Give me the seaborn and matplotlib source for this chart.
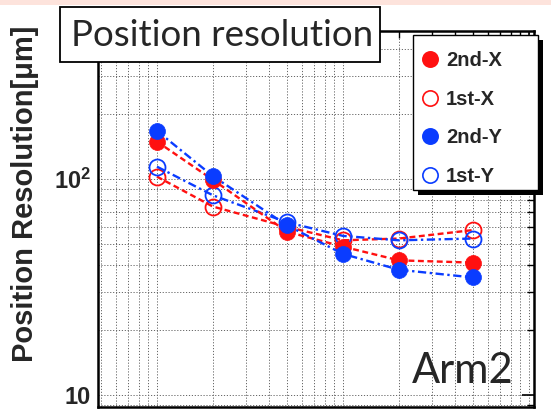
import numpy as np
import pandas as pd
import matplotlib
matplotlib.use("Agg")
import matplotlib.pyplot as plt
import seaborn as sns
from matplotlib.patches import Rectangle
from matplotlib.lines import Line2D
from matplotlib.ticker import LogLocator, FixedLocator, FixedFormatter, NullFormatter

# ---- data -------------------------------------------------------------
x_vals = [10, 20, 50, 100, 200, 500]
res_2nd_x = [149, 99, 57, 48.6, 42, 41]
res_1st_x = [102.5, 74.5, 60, 52, 53, 58]
res_2nd_y = [167, 103, 61, 45, 38, 35]
res_1st_y = [114, 84, 63, 54.5, 52, 53]
series_names = ["2nd-X", "1st-X", "2nd-Y", "1st-Y"]
y_tick_vals = [10, 100]
y_tick_labels = ["10", r"$\mathbf{10^{2}}$"]

RED = "#ff1010"
BLUE = "#0a3cff"

sns.set_theme(style="white")
plt.rcParams["font.family"] = ["Liberation Sans", "DejaVu Sans"]
plt.rcParams["mathtext.fontset"] = "custom"
plt.rcParams["mathtext.rm"] = "Liberation Sans"
plt.rcParams["mathtext.bf"] = "Liberation Sans:bold"

W, H = 551, 411
fig = plt.figure(figsize=(W / 100, H / 100), dpi=100)
fig.patch.set_facecolor("white")


def fx(px):
    return px / W


def fy(py):
    return 1 - py / H


ax = fig.add_axes([fx(98), fy(407), fx(534) - fx(98), fy(31) - fy(407)])
ax.set_xscale("log")
ax.set_yscale("log")
ax.set_xlim(4.82, 1064)
ax.set_ylim(8.8, 484)

df = pd.DataFrame({
    "x": x_vals * 4,
    "res": res_2nd_x + res_1st_x + res_2nd_y + res_1st_y,
    "series": np.repeat(series_names, len(x_vals)),
})

styles = {
    "2nd-X": dict(color=RED, filled=True, ls=(0, (2.5, 1.5))),
    "1st-X": dict(color=RED, filled=False, ls=(0, (2.5, 1.5))),
    "2nd-Y": dict(color=BLUE, filled=True, ls=(0, (3.5, 1.5, 1, 1.5))),
    "1st-Y": dict(color=BLUE, filled=False, ls=(0, (3.5, 1.5, 1, 1.5))),
}

handles = []
for name in series_names:
    st = styles[name]
    sub = df[df["series"] == name]
    sns.lineplot(
        data=sub, x="x", y="res", ax=ax, sort=False,
        color=st["color"], linestyle=st["ls"], linewidth=1.7,
        marker="o", markersize=11.5,
        markerfacecolor=st["color"] if st["filled"] else "none",
        markeredgecolor=st["color"], markeredgewidth=1.3 if not st["filled"] else 0.5,
        zorder=4 if st["filled"] else 3,
    )
    handles.append(Line2D([], [], linestyle="none", marker="o", markersize=11,
                          markerfacecolor=st["color"] if st["filled"] else "none",
                          markeredgecolor=st["color"], markeredgewidth=1.2))

# log axes: ticks inward on all sides, dotted grid at every decade step
for axis in (ax.xaxis, ax.yaxis):
    axis.set_major_locator(LogLocator(base=10, numticks=10))
    axis.set_minor_locator(LogLocator(base=10, subs=np.arange(2, 10), numticks=10))
ax.yaxis.set_major_locator(FixedLocator(y_tick_vals))
ax.yaxis.set_major_formatter(FixedFormatter(y_tick_labels))
ax.yaxis.set_minor_formatter(NullFormatter())
ax.xaxis.set_minor_formatter(NullFormatter())
ax.tick_params(which="both", direction="in", top=True, right=True, color="black")
ax.tick_params(which="major", length=9, width=1.2)
ax.tick_params(which="minor", length=5, width=1.0)
ax.tick_params(axis="x", labelbottom=False)
ax.tick_params(axis="y", labelsize=17, pad=5)
for lab in ax.get_yticklabels():
    lab.set_fontweight("bold")
ax.grid(True, which="both", color="#666666", linestyle=(0, (1.2, 1.8)), linewidth=0.7)
ax.set_axisbelow(True)
for sp in ax.spines.values():
    sp.set_color("black")
    sp.set_linewidth(1.8)
ax.set_xlabel("")
ax.set_ylabel("")
if ax.get_legend():
    ax.get_legend().remove()

fig.text(fx(25), fy(194), "Position Resolution[\u03bcm]", rotation=90,
         ha="center", va="center", fontsize=21, fontweight="bold")

# panel tag
fig.text(fx(412), fy(383), "Arm2", fontsize=30, family=["Lato", "DejaVu Sans"],
         ha="left", va="baseline", zorder=6)

# top band
fig.add_artist(Rectangle((0, fy(5)), 1, 1 - fy(5), transform=fig.transFigure,
                         facecolor="#fde3dc", edgecolor="none", zorder=1))

# title box
fig.add_artist(Rectangle((fx(60), fy(62)), fx(380) - fx(60), fy(7) - fy(62),
                         transform=fig.transFigure, facecolor="white",
                         edgecolor="black", linewidth=1.3, zorder=8))
fig.text(fx(222), fy(35), "Position resolution", fontsize=26.5,
         family=["Lato", "DejaVu Sans"], ha="center", va="center", zorder=9)

# legend box with solid shadow
fig.add_artist(Rectangle((fx(418), fy(195)), fx(543) - fx(418), fy(40) - fy(195),
                         transform=fig.transFigure, facecolor="black",
                         edgecolor="none", zorder=8))
fig.add_artist(Rectangle((fx(413), fy(190)), fx(538) - fx(413), fy(35) - fy(190),
                         transform=fig.transFigure, facecolor="white",
                         edgecolor="black", linewidth=1.0, zorder=8))
leg = fig.legend(handles, series_names, loc="upper left",
                 bbox_to_anchor=(fx(421), fy(51)), bbox_transform=fig.transFigure,
                 frameon=False, prop={"weight": "bold", "size": 14.5},
                 handlelength=0.9, handletextpad=0.35, labelspacing=0.98,
                 borderpad=0, borderaxespad=0)
leg.set_zorder(9)

fig.savefig("out.png", dpi=100)
